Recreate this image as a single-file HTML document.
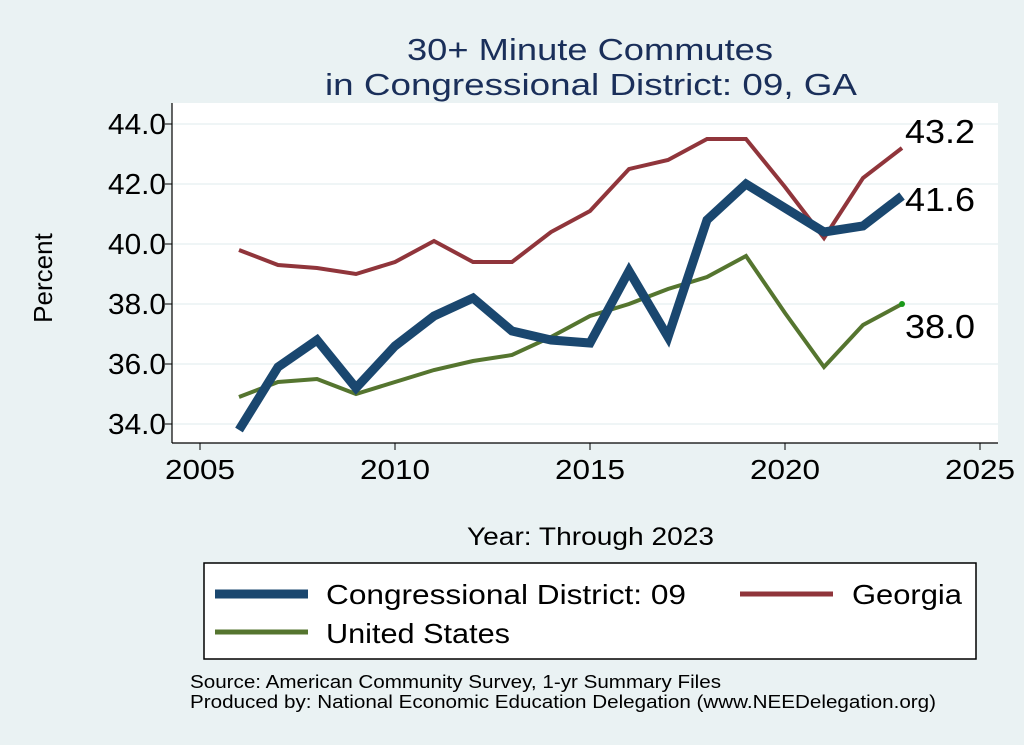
<!DOCTYPE html>
<html><head><meta charset="utf-8"><style>
body{margin:0;background:#eaf2f3;}
svg{display:block;font-family:"Liberation Sans",sans-serif;}
</style></head><body>
<svg id="c" width="1024" height="745" viewBox="0 0 1024 745" xml:space="preserve">
<rect x="0" y="0" width="1024" height="745" fill="#eaf2f3"/>
<rect x="172" y="103" width="826" height="340" fill="#ffffff"/>
<text x="407" y="60" font-size="31" fill="#1a2f5a" textLength="366" lengthAdjust="spacingAndGlyphs">30+ Minute Commutes</text>
<text x="325" y="95" font-size="31" fill="#1a2f5a" textLength="532" lengthAdjust="spacingAndGlyphs">in Congressional District:  09, GA</text>
<g id="grid"></g><g id="axes"></g><g id="series"></g>
<text x="52" y="278" font-size="26" text-anchor="middle" transform="rotate(-90 52 278)">Percent</text>
<text x="467" y="545" font-size="25" textLength="247" lengthAdjust="spacingAndGlyphs">Year: Through 2023</text>
<g>
<rect x="204" y="563" width="772" height="96" fill="#fff" stroke="#000" stroke-width="1.5"/>
<line x1="215" y1="594" x2="308" y2="594" stroke="#1a476f" stroke-width="9"/>
<text x="326" y="604" font-size="28" textLength="360" lengthAdjust="spacingAndGlyphs">Congressional District:  09</text>
<line x1="740" y1="594" x2="833" y2="594" stroke="#90353b" stroke-width="5"/>
<text x="852" y="604" font-size="28" textLength="110" lengthAdjust="spacingAndGlyphs">Georgia</text>
<line x1="215" y1="632" x2="308" y2="632" stroke="#55752f" stroke-width="5"/>
<text x="326" y="643" font-size="28" textLength="184" lengthAdjust="spacingAndGlyphs">United States</text>
</g>
<text x="190" y="688" font-size="18" textLength="531" lengthAdjust="spacingAndGlyphs">Source: American Community Survey, 1-yr Summary Files</text>
<text x="190" y="708" font-size="18" textLength="746" lengthAdjust="spacingAndGlyphs">Produced by: National Economic Education Delegation (www.NEEDelegation.org)</text>
</svg>
<script>
const years=[2006,2007,2008,2009,2010,2011,2012,2013,2014,2015,2016,2017,2018,2019,2020,2021,2022,2023];
const district=[33.8,35.9,36.8,35.2,36.6,37.6,38.2,37.1,36.8,36.7,39.1,36.9,40.8,42.0,41.2,40.4,40.6,41.6];
const georgia=[39.8,39.3,39.2,39.0,39.4,40.1,39.4,39.4,40.4,41.1,42.5,42.8,43.5,43.5,41.9,40.2,42.2,43.2];
const us=[34.9,35.4,35.5,35.0,35.4,35.8,36.1,36.3,36.9,37.6,38.0,38.5,38.9,39.6,37.7,35.9,37.3,38.0];
const xTicks=[2005,2010,2015,2020,2025];
const yTicks=[34,36,38,40,42,44];
const NS="http://www.w3.org/2000/svg";
const X=v=>200+(v-2005)*39;
const Y=v=>424-(v-34)*30;
function mk(t,a,p){const e=document.createElementNS(NS,t);for(const k in a)e.setAttribute(k,a[k]);p.appendChild(e);return e;}
const grid=document.getElementById('grid'),axes=document.getElementById('axes'),ser=document.getElementById('series');
mk('line',{x1:172,y1:443,x2:998,y2:443,stroke:'#000','stroke-width':1.2},axes);
mk('line',{x1:172,y1:103,x2:172,y2:443,stroke:'#000','stroke-width':1.2},axes);
yTicks.forEach(v=>{
 const g=mk('line',{x1:172,x2:998,y1:Y(v),y2:Y(v),stroke:'#eaf2f3','stroke-width':1.5},grid);
 
 
 mk('line',{x1:165,x2:172,y1:Y(v),y2:Y(v),stroke:'#000'},axes);
 const t=mk('text',{x:166,y:Y(v)+10,'font-size':29,'text-anchor':'end',textLength:58,lengthAdjust:'spacingAndGlyphs'},axes);t.textContent=v.toFixed(1);
 
 
});
xTicks.forEach(v=>{
 mk('line',{x1:X(v),x2:X(v),y1:443,y2:450,stroke:'#000'},axes);
 const t=mk('text',{x:X(v)-35,y:479,'font-size':28,textLength:70,lengthAdjust:'spacingAndGlyphs'},axes);t.textContent=v;
 
 
});
function line(vals,col,w,name){
 const p=mk('polyline',{points:vals.map((v,i)=>X(years[i])+','+Y(v)).join(' '),fill:'none',stroke:col,'stroke-width':w,'stroke-linejoin':'miter'},ser);
 
 
}
line(georgia,'#90353b',4,'line-georgia');
line(us,'#55752f',4,'line-us');
line(district,'#1a476f',9,'line-district');
const n=years.length-1;
mk('circle',{cx:X(years[n]),cy:Y(us[n]),r:3,fill:'#1a9a1a'},ser);
[[georgia,'label-georgia-last',-17],[district,'label-district-last',3],[us,'label-us-last',22]].forEach(([a,nm,dy])=>{
 const t=mk('text',{x:905,y:Y(a[n])+12+dy,'font-size':33,textLength:70,lengthAdjust:'spacingAndGlyphs'},ser);t.textContent=a[n].toFixed(1);
 
 
});
</script>
</body></html>
